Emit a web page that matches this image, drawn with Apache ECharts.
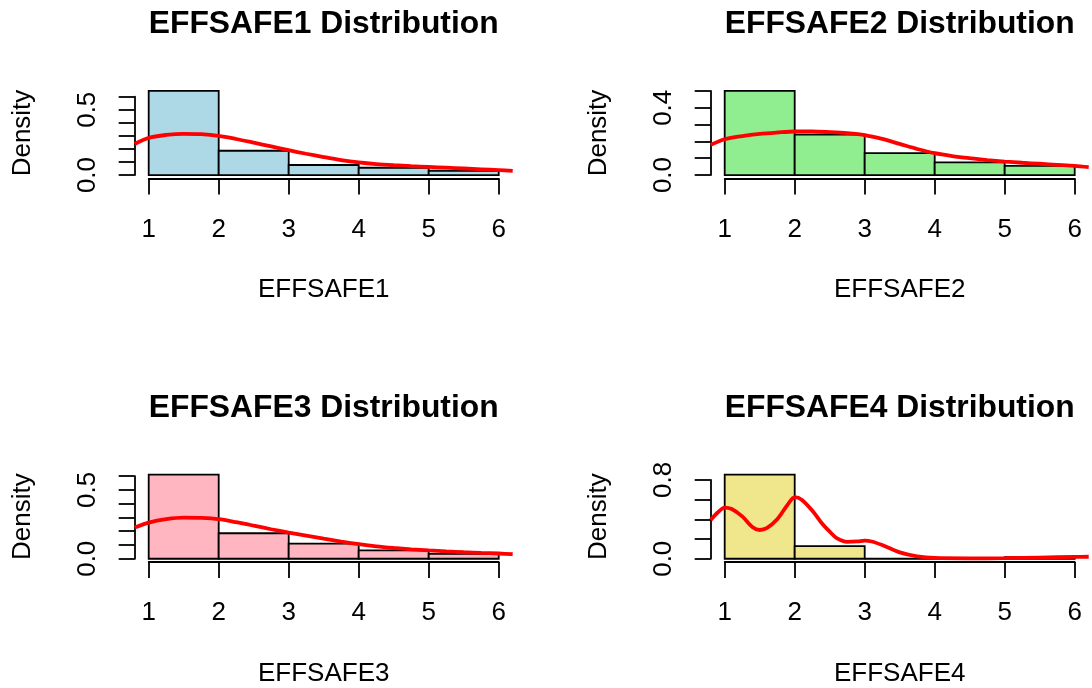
<!DOCTYPE html>
<html>
<head>
<meta charset="utf-8">
<script src="https://cdn.jsdelivr.net/npm/echarts@6/dist/echarts.min.js"></script>
<style>
html,body{margin:0;padding:0;background:#ffffff;}
#chart{width:1092px;height:688px;}
</style>
</head>
<body>
<div id="chart"></div>
<script>
// ---------------- data ----------------
const variables = ['EFFSAFE1', 'EFFSAFE2', 'EFFSAFE3', 'EFFSAFE4'];
const binEdges = [1, 2, 3, 4, 5, 6];
const xTicks = [1, 2, 3, 4, 5, 6];

// histogram densities per bin (1-2, 2-3, 3-4, 4-5, 5-6)
const hist1 = [0.644, 0.186, 0.077, 0.056, 0.033];
const hist2 = [0.500, 0.240, 0.130, 0.075, 0.055];
const hist3 = [0.610, 0.185, 0.110, 0.060, 0.035];
const hist4 = [0.854, 0.129, 0.000, 0.000, 0.017];

// kernel density curves
const densX = [0.8, 1.0, 1.25, 1.5, 1.75, 2.0, 2.25, 2.5, 2.75, 3.0, 3.25, 3.5, 3.75, 4.0, 4.25, 4.5, 4.75, 5.0, 5.25, 5.5, 5.75, 6.0, 6.2];
const dens1 = [0.238, 0.285, 0.307, 0.316, 0.313, 0.300, 0.276, 0.248, 0.219, 0.190, 0.163, 0.138, 0.115, 0.097, 0.084, 0.075, 0.068, 0.062, 0.056, 0.050, 0.044, 0.038, 0.032];
const dens2 = [0.180, 0.213, 0.232, 0.245, 0.253, 0.259, 0.259, 0.255, 0.249, 0.238, 0.215, 0.185, 0.155, 0.130, 0.113, 0.100, 0.089, 0.080, 0.073, 0.067, 0.061, 0.055, 0.047];
const dens3 = [0.226, 0.262, 0.287, 0.298, 0.296, 0.287, 0.265, 0.240, 0.214, 0.190, 0.168, 0.146, 0.125, 0.106, 0.090, 0.078, 0.068, 0.060, 0.053, 0.047, 0.042, 0.038, 0.033];
const densX4 = [0.8, 0.9, 1.0, 1.1, 1.25, 1.4, 1.5, 1.6, 1.75, 1.9, 2.0, 2.1, 2.25, 2.4, 2.5, 2.6, 2.75, 2.9, 3.0, 3.1, 3.25, 3.5, 3.75, 4.0, 4.5, 5.0, 5.5, 6.0, 6.2];
const dens4 = [0.394, 0.470, 0.519, 0.505, 0.430, 0.320, 0.292, 0.310, 0.400, 0.550, 0.625, 0.600, 0.490, 0.350, 0.275, 0.210, 0.172, 0.176, 0.183, 0.175, 0.139, 0.065, 0.025, 0.008, 0.004, 0.006, 0.012, 0.018, 0.020];

// y-axis ticks
const yTickStep = [0.1, 0.1, 0.1, 0.2];
const yTickTop = [0.6, 0.5, 0.6, 0.8];
const yLabels1 = ['0.0', '0.5'];
const yLabels2 = ['0.0', '0.4'];
const yLabels3 = ['0.0', '0.5'];
const yLabels4 = ['0.0', '0.8'];

const fills = ['#ADD8E6', '#90EE90', '#FFB6C1', '#F0E68C'];

// ---------------- layout ----------------
const hists = [hist1, hist2, hist3, hist4];
const densXs = [densX, densX, densX, densX4];
const densYs = [dens1, dens2, dens3, dens4];
const yLabels = [yLabels1, yLabels2, yLabels3, yLabels4];

const FONT = '"Liberation Sans", Arial, Helvetica, sans-serif';
const colLeft = [134.7, 710.7];
const rowTop = [87.6, 471.3];
const titleY = [24, 408.5];
const plotW = 378, plotH = 90.8;
const XMIN = 0.8, XMAX = 6.2;
const LW = 1.8;

const grids = [], xAxes = [], yAxes = [], series = [], graphics = [];

variables.forEach((v, i) => {
  const col = i % 2, row = Math.floor(i / 2);
  const L = colLeft[col], T = rowTop[row];
  const h = hists[i];
  const hmax = Math.max(...h);
  const ymin = -0.04 * hmax, ymax = 1.04 * hmax;
  const pxPerY = plotH / (ymax - ymin);
  const pxPerX = plotW / (XMAX - XMIN);
  const gMain = grids.length;

  // main plotting region
  grids.push({left: L, top: T, width: plotW, height: plotH, containLabel: false, outerBoundsMode: 'none'});
  xAxes.push({
    gridIndex: gMain, type: 'value', min: XMIN, max: XMAX,
    axisLine: {show: false}, axisTick: {show: false}, axisLabel: {show: false}, splitLine: {show: false},
    name: v, nameLocation: 'middle', nameGap: 98.5,
    nameTextStyle: {fontSize: 26, color: '#000', fontFamily: FONT}
  });
  yAxes.push({
    gridIndex: gMain, type: 'value', min: ymin, max: ymax,
    axisLine: {show: false}, axisTick: {show: false}, axisLabel: {show: false}, splitLine: {show: false},
    name: 'Density', nameLocation: 'middle', nameGap: 98.5, nameRotate: 90,
    nameTextStyle: {fontSize: 26, color: '#000', fontFamily: FONT}
  });

  // x-axis region (spans first to last tick)
  const gX = grids.length;
  const x0 = xTicks[0], x1 = xTicks[xTicks.length - 1];
  grids.push({left: L + (x0 - XMIN) * pxPerX, top: T, width: (x1 - x0) * pxPerX, height: plotH,
              containLabel: false, outerBoundsMode: 'none'});
  xAxes.push({
    gridIndex: gX, type: 'value', min: x0, max: x1, interval: xTicks[1] - xTicks[0], position: 'bottom',
    axisLine: {show: true, lineStyle: {color: '#000', width: LW}},
    axisTick: {show: true, length: 16, lineStyle: {color: '#000', width: LW}},
    axisLabel: {show: true, margin: 38, fontSize: 26, color: '#000', fontFamily: FONT},
    splitLine: {show: false}
  });
  yAxes.push({gridIndex: gX, type: 'value', min: 0, max: 1, show: false});

  // y-axis region (spans 0 to top tick)
  const gY = grids.length;
  const top = yTickTop[i];
  grids.push({left: L, top: T + (ymax - top) * pxPerY, width: plotW, height: top * pxPerY,
              containLabel: false, outerBoundsMode: 'none'});
  xAxes.push({gridIndex: gY, type: 'value', min: 0, max: 1, show: false});
  const labs = yLabels[i];
  yAxes.push({
    gridIndex: gY, type: 'value', min: 0, max: top, interval: yTickStep[i], position: 'left',
    axisLine: {show: true, lineStyle: {color: '#000', width: LW}},
    axisTick: {show: true, length: 16, lineStyle: {color: '#000', width: LW}},
    axisLabel: {show: true, rotate: 90, margin: 34, fontSize: 26, color: '#000', fontFamily: FONT,
      formatter: (val) => { const s = val.toFixed(1); return labs.indexOf(s) >= 0 ? s : ''; }},
    splitLine: {show: false}
  });

  // histogram bars
  const barData = h.map((d, k) => [binEdges[k], binEdges[k + 1], d]);
  const fill = fills[i];
  series.push({
    type: 'custom', xAxisIndex: gMain, yAxisIndex: gMain, z: 2,
    data: barData,
    encode: {x: [0, 1], y: 2},
    renderItem: (params, api) => {
      const p0 = api.coord([api.value(0), api.value(2)]);
      const p1 = api.coord([api.value(1), 0]);
      return {
        type: 'rect',
        shape: {x: p0[0], y: p0[1], width: p1[0] - p0[0], height: p1[1] - p0[1]},
        style: {fill: fill, stroke: '#000', lineWidth: LW}
      };
    }
  });

  // density curve
  series.push({
    type: 'line', xAxisIndex: gMain, yAxisIndex: gMain, z: 3,
    data: densXs[i].map((x, k) => [x, densYs[i][k]]),
    showSymbol: false, symbol: 'none', smooth: 0.3, clip: true,
    lineStyle: {color: '#FF0000', width: 3.8},
    animation: false
  });

  // title
  graphics.push({
    type: 'text', x: L + plotW / 2, y: titleY[row],
    style: {text: v + ' Distribution', fontSize: 31.8, fontWeight: 'bold', fontFamily: FONT,
            fill: '#000', textAlign: 'center', textVerticalAlign: 'middle'}
  });
});

const chart = echarts.init(document.getElementById('chart'), null, {renderer: 'canvas'});
chart.setOption({
  animation: false,
  backgroundColor: '#ffffff',
  grid: grids,
  xAxis: xAxes,
  yAxis: yAxes,
  series: series,
  graphic: graphics
});
</script>
</body>
</html>
